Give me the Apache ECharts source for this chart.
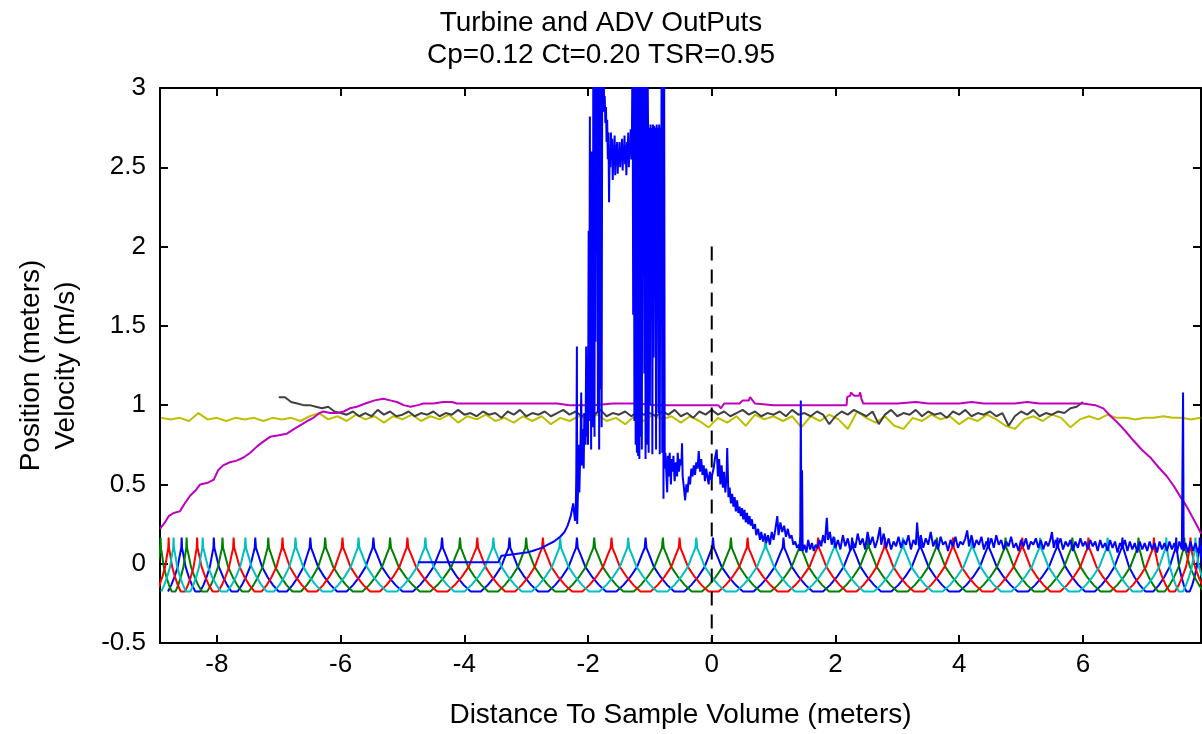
<!DOCTYPE html>
<html><head><meta charset="utf-8">
<script src="https://cdn.jsdelivr.net/npm/echarts@6/dist/echarts.min.js"></script>
<style>html,body{margin:0;padding:0;background:#fff}#chart{width:1202px;height:734px}</style>
</head><body><div id="chart"></div>
<script>
// ---------- text ----------
const titleLines = ['Turbine and ADV OutPuts', 'Cp=0.12 Ct=0.20 TSR=0.95'];
const xAxisName = 'Distance To Sample Volume (meters)';
const yAxisNames = ['Position (meters)', 'Velocity (m/s)'];

// ---------- axes ----------
const xMin = -8.92, xMax = 7.91;
const yMin = -0.5, yMax = 3;
const xTickValues = [-8, -6, -4, -2, 0, 2, 4, 6];
const yTickValues = [-0.5, 0, 0.5, 1, 1.5, 2, 2.5, 3];

// ---------- blade position pulses (peak centres, metres) ----------
const bluePeaks  = [-8.57, -8.05, -7.38, -6.49, -5.47, -4.36, -3.27, -2.18, -1.07, 0.02, 1.16, 2.27, 3.37, 4.47, 5.59, 6.64, 7.51, 7.89];
const greenPeaks = [-8.91, -8.49, -7.91, -7.17, -6.25, -5.20, -4.07, -3.00, -1.90, -0.79, 0.31, 1.43, 2.53, 3.64, 4.75, 5.83, 6.90, 7.64];
const redPeaks   = [-8.78, -8.32, -7.73, -6.94, -5.97, -4.92, -3.79, -2.73, -1.62, -0.52, 0.58, 1.72, 2.80, 3.90, 5.02, 6.09, 7.15, 7.74];
const cyanPeaks  = [-8.70, -8.23, -7.54, -6.73, -5.71, -4.63, -3.53, -2.45, -1.35, -0.25, 0.87, 1.99, 3.09, 4.21, 5.31, 6.40, 7.35, 7.82];
// pulse profile read from one pulse: relative offset (fraction of half width) and level
const pulseShapeT = [-1, -0.76, -0.53, -0.29, -0.12, -0.03, 0, 0.03, 0.12, 0.29, 0.53, 0.76, 1];
const pulseShapeV = [-0.175, -0.135, -0.085, -0.02, 0.06, 0.10, 0.165, 0.10, 0.06, -0.02, -0.085, -0.135, -0.175];
const pulseHalfFrac = 0.425;

// ---------- yellow trace (sampled every 0.15 m from -8.9) ----------
const yellowX0 = -8.9, yellowDX = 0.15;
const yellowVals = [0.92,0.91,0.92,0.90,0.95,0.91,0.92,0.90,0.92,0.91,0.92,0.90,0.92,0.91,0.92,0.90,0.93,0.95,0.91,0.93,
0.90,0.94,0.91,0.93,0.89,0.93,0.91,0.94,0.90,0.93,0.91,0.94,0.89,0.93,0.91,0.94,0.90,0.92,0.89,0.93,
0.90,0.93,0.88,0.92,0.90,0.93,0.91,0.94,0.90,0.92,0.88,0.93,0.90,0.94,0.91,0.93,0.89,0.93,0.90,0.86,
0.92,0.89,0.93,0.87,0.94,0.91,0.93,0.90,0.93,0.86,0.93,0.90,0.94,0.91,0.85,0.96,0.92,0.89,0.93,0.87,
0.85,0.92,0.90,0.94,0.91,0.93,0.88,0.92,0.90,0.94,0.91,0.87,0.85,0.91,0.93,0.90,0.94,0.92,0.86,0.91,
0.93,0.91,0.94,0.92,0.92,0.91,0.92,0.92,0.93,0.92,0.92,0.91,0.92];

// ---------- black trace (sampled every 0.1 m from -7.0) ----------
const blackX0 = -7.0, blackDX = 0.1;
const blackVals = [1.05,1.05,1.02,1.01,1.00,1.00,0.99,0.98,0.99,0.96,0.95,
0.94,0.96,0.93,0.95,0.93,0.97,0.94,0.96,0.93,0.94,
0.96,0.93,0.95,0.94,0.96,0.93,0.95,0.94,0.97,0.94,
0.95,0.93,0.96,0.94,0.95,0.92,0.96,0.94,0.97,0.93,
0.95,0.94,0.96,0.93,0.95,0.97,0.94,0.96,0.93,0.95,
0.94,0.97,0.93,0.95,0.94,0.96,0.93,0.96,0.94,0.95,
0.93,0.96,0.94,0.97,0.93,0.95,0.92,0.96,0.94,0.97,
0.94,0.96,0.93,0.95,0.97,0.94,0.96,0.93,0.95,0.94,
0.96,0.93,0.97,0.94,0.95,0.93,0.96,0.94,0.88,0.93,
0.96,0.94,0.97,0.95,0.93,0.96,0.88,0.94,0.97,0.93,
0.95,0.94,0.97,0.93,0.96,0.94,0.95,0.92,0.96,0.94,
0.97,0.93,0.95,0.94,0.96,0.93,0.95,0.87,0.93,0.96,
0.94,0.97,0.93,0.95,0.94,0.96,0.95,0.98,0.99,1.02];

// ---------- magenta trace [x, y] ----------
const magentaPts = [[-8.92,0.22],[-8.88,0.24],[-8.84,0.26],[-8.78,0.30],[-8.70,0.32],[-8.60,0.33],[-8.52,0.38],[-8.43,0.43],[-8.35,0.46],[-8.27,0.50],
[-8.15,0.51],[-8.05,0.53],[-7.98,0.59],[-7.90,0.62],[-7.79,0.64],[-7.68,0.65],[-7.57,0.67],[-7.46,0.70],[-7.35,0.74],[-7.25,0.77],
[-7.14,0.80],[-7.00,0.81],[-6.87,0.82],[-6.75,0.85],[-6.62,0.88],[-6.54,0.90],[-6.44,0.92],[-6.34,0.95],[-6.28,0.96],[-6.17,0.95],
[-6.05,0.95],[-5.95,0.96],[-5.85,0.98],[-5.74,0.99],[-5.60,1.01],[-5.45,1.03],[-5.31,1.04],[-5.20,1.03],[-5.09,1.02],[-4.98,1.00],
[-4.87,0.99],[-4.75,1.00],[-4.66,1.01],[-4.50,1.01],[-4.34,1.02],[-4.20,1.02],[-4.12,1.01],[-3.50,1.01],[-3.00,1.01],[-2.50,1.01],
[-2.30,1.00],[-1.90,1.00],[-1.60,1.01],[-1.20,1.01],[-0.90,1.00],[-0.60,1.00],[-0.10,1.00],[0.10,1.00],[0.15,0.98],[0.20,1.01],
[0.45,1.01],[0.50,1.03],[0.60,1.03],[0.62,1.05],[0.66,1.03],[0.70,1.01],[1.00,1.00],[1.50,1.00],[1.90,1.00],[2.18,1.00],
[2.19,1.05],[2.24,1.06],[2.25,1.08],[2.30,1.06],[2.38,1.06],[2.40,1.08],[2.42,1.04],[2.45,1.01],[3.00,1.01],[3.30,1.02],
[3.50,1.01],[4.00,1.01],[4.20,1.02],[4.40,1.01],[4.90,1.01],[5.10,1.02],[5.30,1.01],[6.00,1.01],[6.20,1.00],[6.33,0.98],
[6.45,0.93],[6.56,0.89],[6.68,0.84],[6.81,0.78],[6.95,0.72],[7.09,0.67],[7.22,0.61],[7.36,0.55],[7.47,0.49],[7.58,0.42],
[7.68,0.36],[7.79,0.28],[7.86,0.23],[7.91,0.19]];

// ---------- ADV velocity trace [x, y] ----------
const advPts = [[-4.75,0.01],[-4.30,0.01],[-3.90,0.01],[-3.45,0.01],[-3.40,0.05],[-3.20,0.06],[-3.00,0.07],[-2.90,0.08],[-2.75,0.10],[-2.65,0.12],
[-2.55,0.14],[-2.45,0.17],[-2.38,0.20],[-2.33,0.24],[-2.28,0.30],[-2.24,0.38],[-2.21,0.27],
[-2.20,0.30],[-2.19,0.55],[-2.18,1.37],[-2.175,0.25],[-2.16,0.50],[-2.15,0.75],[-2.14,0.45],[-2.12,0.80],[-2.11,1.08],[-2.10,0.62],
[-2.09,0.85],[-2.07,0.60],[-2.06,0.95],[-2.04,0.75],[-2.03,1.37],[-2.02,0.80],[-2.01,1.10],[-2.00,0.75],[-1.99,2.10],[-1.98,1.00],
[-1.97,2.82],[-1.965,0.90],[-1.96,2.45],[-1.95,0.72],[-1.945,2.60],[-1.94,1.20],[-1.93,2.50],[-1.92,0.86],[-1.915,3.3],[-1.91,1.00],
[-1.90,3.3],[-1.895,0.80],[-1.89,3.3],[-1.88,1.40],[-1.87,3.3],[-1.86,2.10],[-1.85,3.3],[-1.84,0.95],[-1.83,3.3],[-1.82,0.72],
[-1.81,3.3],[-1.80,1.10],[-1.79,3.3],[-1.78,0.86],[-1.77,3.3],
[-1.76,2.90],[-1.75,3.3],[-1.74,2.85],[-1.73,2.95],[-1.72,2.78],[-1.71,2.88],[-1.70,2.66],[-1.69,2.80],[-1.68,2.55],[-1.67,2.72],
[-1.66,2.28],[-1.65,2.62],[-1.64,2.50],[-1.63,2.72],[-1.62,2.55],[-1.61,2.68],[-1.60,2.42],[-1.59,2.62],[-1.58,2.58],[-1.57,2.70],
[-1.56,2.45],[-1.55,2.64],[-1.54,2.52],[-1.53,2.66],[-1.52,2.46],[-1.51,2.60],[-1.50,2.56],[-1.49,2.66],[-1.48,2.50],[-1.47,2.62],
[-1.46,2.58],[-1.45,2.68],[-1.44,2.48],[-1.43,2.62],[-1.42,2.55],[-1.41,2.70],[-1.40,2.52],[-1.39,2.64],[-1.38,2.45],[-1.37,2.66],
[-1.36,2.56],[-1.35,2.72],[-1.34,2.50],[-1.33,2.66],[-1.32,2.60],[-1.31,2.74],[-1.30,2.55],[-1.29,2.70],
[-1.28,3.3],[-1.27,1.57],[-1.26,3.3],[-1.25,0.90],[-1.24,3.3],[-1.23,0.75],[-1.22,3.3],[-1.21,0.70],[-1.20,3.3],[-1.19,0.68],
[-1.18,3.3],[-1.17,0.66],[-1.16,3.3],[-1.15,0.80],[-1.14,3.3],[-1.13,0.72],[-1.12,3.3],[-1.11,2.03],[-1.10,3.3],[-1.09,1.20],
[-1.08,3.3],[-1.07,0.66],[-1.06,3.3],[-1.05,0.75],[-1.04,3.3],[-1.03,2.77],[-1.02,0.70],[-1.01,2.75],[-1.00,1.00],[-0.99,2.77],
[-0.98,2.30],[-0.97,2.75],[-0.96,0.69],[-0.95,2.77],[-0.94,1.30],[-0.93,2.76],[-0.92,2.00],[-0.91,2.75],[-0.90,0.72],[-0.89,2.77],
[-0.88,1.71],[-0.87,2.75],[-0.86,0.95],[-0.85,2.77],[-0.84,0.69],[-0.83,2.75],[-0.82,1.50],[-0.81,3.3],[-0.80,0.70],[-0.79,3.3],
[-0.78,0.41],[-0.77,3.3],[-0.76,0.60],[-0.75,0.70],
[-0.74,0.62],[-0.72,0.45],[-0.71,0.68],[-0.69,0.55],[-0.68,0.70],[-0.66,0.50],[-0.65,0.66],[-0.63,0.58],[-0.62,0.68],[-0.60,0.52],
[-0.58,0.64],[-0.56,0.55],[-0.55,0.70],[-0.53,0.58],[-0.51,0.66],[-0.49,0.62],[-0.48,0.76],[-0.47,0.55],[-0.45,0.48],[-0.43,0.40],
[-0.41,0.50],[-0.39,0.45],[-0.37,0.55],[-0.35,0.50],[-0.33,0.60],[-0.31,0.55],[-0.29,0.62],[-0.27,0.56],[-0.25,0.64],[-0.23,0.60],
[-0.21,0.71],[-0.19,0.58],[-0.17,0.66],[-0.15,0.56],[-0.13,0.62],[-0.11,0.52],[-0.09,0.60],[-0.07,0.55],[-0.05,0.50],[-0.03,0.58],
[-0.01,0.53],[0.01,0.52],[0.03,0.60],[0.05,0.66],[0.08,0.72],[0.10,0.55],[0.12,0.66],[0.14,0.50],[0.16,0.62],[0.18,0.48],
[0.20,0.58],[0.22,0.45],[0.24,0.55],[0.25,0.73],[0.27,0.42],[0.29,0.48],[0.31,0.38],[0.33,0.44],[0.35,0.36],[0.37,0.42],
[0.39,0.33],[0.41,0.40],[0.43,0.32],[0.45,0.36],[0.47,0.30],[0.49,0.35],[0.51,0.28],[0.53,0.34],[0.55,0.26],[0.57,0.32],
[0.59,0.25],[0.61,0.30],[0.63,0.24],[0.65,0.28],[0.67,0.22],[0.70,0.25],[0.72,0.18],[0.75,0.22],[0.78,0.15],[0.80,0.20],
[0.83,0.14],[0.86,0.19],[0.88,0.13],[0.91,0.18],[0.94,0.12],[0.97,0.20],[1.00,0.15],[1.03,0.22],[1.06,0.30],[1.08,0.18],
[1.11,0.26],[1.14,0.20],[1.17,0.24],[1.20,0.17],[1.23,0.22],[1.26,0.16],[1.29,0.18],[1.32,0.12],[1.35,0.14],[1.38,0.10],
[1.41,0.12],[1.43,0.08],[1.44,1.03],[1.45,0.10],[1.46,0.59],[1.47,0.08],[1.50,0.12],[1.53,0.07],[1.56,0.15],[1.59,0.09],
[1.62,0.13],[1.65,0.08],[1.68,0.12],[1.71,0.10],[1.74,0.15],[1.77,0.11],[1.80,0.18],[1.83,0.13],[1.86,0.29],[1.88,0.15],
[1.91,0.20],[1.94,0.12],[1.97,0.17],[2.00,0.10],
[2.04,0.15],[2.08,0.09],[2.12,0.18],[2.16,0.11],[2.20,0.16],[2.24,0.08],[2.28,0.14],[2.32,0.10],[2.36,0.19],[2.40,0.12],
[2.44,0.16],[2.48,0.09],[2.52,0.20],[2.56,0.12],[2.60,0.17],[2.64,0.10],[2.68,0.15],[2.72,0.23],[2.74,0.12],[2.78,0.19],
[2.82,0.10],[2.86,0.16],[2.90,0.09],[2.94,0.14],[2.98,0.11],[3.02,0.17],[3.06,0.10],[3.10,0.15],[3.14,0.12],[3.18,0.18],
[3.22,0.09],[3.26,0.15],[3.30,0.12],[3.32,0.26],[3.35,0.11],[3.38,0.18],[3.42,0.10],[3.46,0.16],[3.50,0.12],[3.54,0.20],
[3.58,0.11],[3.62,0.15],[3.66,0.09],[3.70,0.17],[3.74,0.12],[3.78,0.14],[3.82,0.08],[3.86,0.15],[3.90,0.11],[3.94,0.17],
[3.98,0.10],[4.02,0.14],[4.06,0.12],[4.10,0.16],[4.13,0.21],[4.16,0.11],[4.20,0.18],[4.24,0.10],[4.28,0.15],[4.32,0.12],
[4.36,0.17],[4.40,0.09],[4.44,0.14],[4.48,0.11],[4.52,0.16],[4.56,0.10],[4.60,0.18],[4.64,0.12],[4.68,0.15],[4.72,0.09],
[4.76,0.14],[4.80,0.11],[4.84,0.17],[4.88,0.10],[4.92,0.13],[4.96,0.08],[5.00,0.15],[5.04,0.11],[5.08,0.16],[5.12,0.09],
[5.16,0.14],[5.20,0.12],[5.24,0.16],[5.28,0.10],[5.32,0.15],[5.36,0.09],[5.40,0.14],[5.44,0.11],[5.48,0.16],[5.50,0.20],
[5.53,0.10],[5.56,0.15],[5.60,0.12],[5.64,0.16],[5.68,0.09],[5.72,0.14],[5.76,0.11],[5.80,0.15],[5.84,0.08],[5.88,0.14],
[5.92,0.10],[5.96,0.16],[6.00,0.11],[6.04,0.14],[6.08,0.09],[6.12,0.15],[6.16,0.11],[6.20,0.14],[6.24,0.08],[6.28,0.15],
[6.32,0.10],[6.36,0.13],[6.40,0.08],[6.44,0.15],[6.48,0.10],[6.52,0.14],[6.56,0.07],[6.60,0.13],[6.64,0.10],[6.68,0.15],
[6.72,0.08],[6.76,0.14],[6.80,0.09],[6.84,0.13],[6.88,0.07],[6.92,0.14],[6.96,0.09],[7.00,0.13],[7.04,0.08],[7.08,0.14],
[7.12,0.09],[7.16,0.13],[7.20,0.07],[7.24,0.14],[7.28,0.09],[7.32,0.13],[7.36,0.08],[7.40,0.14],[7.44,0.09],[7.48,0.13],
[7.52,0.07],[7.56,0.14],[7.60,0.09],[7.62,1.08],[7.63,0.08],[7.66,0.13],[7.70,0.07],[7.74,0.14],[7.78,0.08],[7.82,0.13],
[7.86,0.07],[7.90,0.12],[7.92,0.09]];

// ---------- sample volume marker ----------
const markerPts = [[0, 2], [0, -0.5]];

// ---------- build ----------
function buildPulses(centers) {
  const pts = [];
  for (let i = 0; i < centers.length; i++) {
    const c = centers[i];
    const gl = i > 0 ? c - centers[i - 1] : centers[1] - c;
    const gr = i < centers.length - 1 ? centers[i + 1] - c : c - centers[i - 1];
    for (let k = 0; k < pulseShapeT.length; k++) {
      const t = pulseShapeT[k];
      const w = (t < 0 ? gl : gr) * pulseHalfFrac;
      pts.push([c + t * w, pulseShapeV[k]]);
    }
  }
  return pts;
}
function sampled(x0, dx, vals) {
  return vals.map((v, i) => [Math.round((x0 + i * dx) * 1000) / 1000, v]);
}
function lineSeries(data, color, width) {
  return {
    type: 'line', data: data, showSymbol: false, symbol: 'none', clip: true,
    lineStyle: { color: color, width: width || 2 }, itemStyle: { color: color },
    emphasis: { disabled: true }, silent: true, animation: false
  };
}

const FONT = 'Liberation Sans, Arial, sans-serif';
const chart = echarts.init(document.getElementById('chart'), null, { renderer: 'canvas' });
const axisLineStyle = { show: true, onZero: false, lineStyle: { color: '#000', width: 2 } };
const option = {
  backgroundColor: '#ffffff',
  animation: false,
  title: {
    text: titleLines.join('\n'), left: 'center', top: 2,
    textStyle: { fontFamily: FONT, fontSize: 28, fontWeight: 'normal', color: '#000', lineHeight: 32 }
  },
  grid: { left: 160, right: 1, top: 88, bottom: 91, containLabel: false },
  xAxis: [{
    type: 'value', min: xMin, max: xMax, minInterval: 2, maxInterval: 2, position: 'bottom',
    name: xAxisName, nameLocation: 'middle', nameGap: 58,
    nameTextStyle: { fontFamily: FONT, fontSize: 28, color: '#000' },
    axisLine: axisLineStyle,
    axisTick: { show: true, inside: true, length: 8, customValues: xTickValues, lineStyle: { color: '#000', width: 2 } },
    axisLabel: { show: true, customValues: xTickValues, margin: 9, fontFamily: FONT, fontSize: 26, color: '#000' },
    splitLine: { show: false }
  }, {
    type: 'value', min: xMin, max: xMax, minInterval: 2, maxInterval: 2, position: 'top',
    axisLine: axisLineStyle,
    axisTick: { show: true, inside: true, length: 8, customValues: xTickValues, lineStyle: { color: '#000', width: 2 } },
    axisLabel: { show: false }, splitLine: { show: false }
  }],
  yAxis: [{
    type: 'value', min: yMin, max: yMax, interval: 0.5, position: 'left',
    name: yAxisNames.join('\n'), nameLocation: 'middle', nameGap: 76, nameRotate: 90,
    nameTextStyle: { fontFamily: FONT, fontSize: 28, color: '#000', lineHeight: 35 },
    axisLine: axisLineStyle,
    axisTick: { show: true, inside: true, length: 8, lineStyle: { color: '#000', width: 2 } },
    axisLabel: { show: true, margin: 14, fontFamily: FONT, fontSize: 26, color: '#000' },
    splitLine: { show: false }
  }, {
    type: 'value', min: yMin, max: yMax, interval: 0.5, position: 'right',
    axisLine: axisLineStyle,
    axisTick: { show: true, inside: true, length: 8, lineStyle: { color: '#000', width: 2 } },
    axisLabel: { show: false }, splitLine: { show: false }
  }],
  series: [
    lineSeries(buildPulses(bluePeaks), '#0000ff'),
    lineSeries(buildPulses(greenPeaks), '#008000'),
    lineSeries(buildPulses(redPeaks), '#ff0000'),
    lineSeries(buildPulses(cyanPeaks), '#00bfbf'),
    lineSeries(sampled(yellowX0, yellowDX, yellowVals), '#bfbf00'),
    lineSeries(sampled(blackX0, blackDX, blackVals), '#404040'),
    lineSeries(magentaPts, '#bf00bf'),
    Object.assign(lineSeries(markerPts, '#000'), { lineStyle: { color: '#000', width: 2, type: [14, 9] } }),
    lineSeries(advPts, '#0000ff')
  ]
};
chart.setOption(option);
</script></body></html>
